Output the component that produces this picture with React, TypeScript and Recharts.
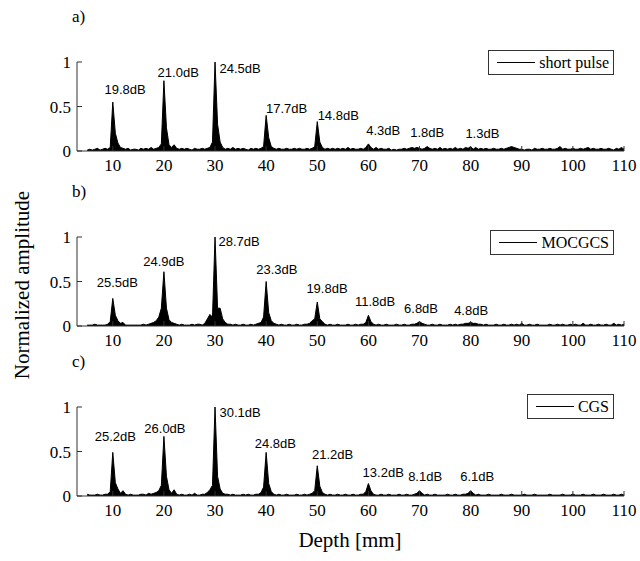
import { Area, AreaChart, Legend, ReferenceDot, XAxis, YAxis } from 'recharts'

// sample positions along depth (mm)
const depthMm = [
  5, 5.5, 6, 6.5, 7, 7.5, 8, 8.5, 9, 9.5, 10, 10.5, 11, 11.5, 12, 12.5, 13, 13.5, 14, 14.5,
  15, 15.5, 16, 16.5, 17, 17.5, 18, 18.5, 19, 19.5, 20, 20.5, 21, 21.5, 22, 22.5, 23, 23.5, 24, 24.5,
  25, 25.5, 26, 26.5, 27, 27.5, 28, 28.5, 29, 29.5, 30, 30.5, 31, 31.5, 32, 32.5, 33, 33.5, 34, 34.5,
  35, 35.5, 36, 36.5, 37, 37.5, 38, 38.5, 39, 39.5, 40, 40.5, 41, 41.5, 42, 42.5, 43, 43.5, 44, 44.5,
  45, 45.5, 46, 46.5, 47, 47.5, 48, 48.5, 49, 49.5, 50, 50.5, 51, 51.5, 52, 52.5, 53, 53.5, 54, 54.5,
  55, 55.5, 56, 56.5, 57, 57.5, 58, 58.5, 59, 59.5, 60, 60.5, 61, 61.5, 62, 62.5, 63, 63.5, 64, 64.5,
  65, 65.5, 66, 66.5, 67, 67.5, 68, 68.5, 69, 69.5, 70, 70.5, 71, 71.5, 72, 72.5, 73, 73.5, 74, 74.5,
  75, 75.5, 76, 76.5, 77, 77.5, 78, 78.5, 79, 79.5, 80, 80.5, 81, 81.5, 82, 82.5, 83, 83.5, 84, 84.5,
  85, 85.5, 86, 86.5, 87, 87.5, 88, 88.5, 89, 89.5, 90, 90.5, 91, 91.5, 92, 92.5, 93, 93.5, 94, 94.5,
  95, 95.5, 96, 96.5, 97, 97.5, 98, 98.5, 99, 99.5, 100, 100.5, 101, 101.5, 102, 102.5, 103, 103.5, 104, 104.5,
  105, 105.5, 106, 106.5, 107, 107.5, 108, 108.5, 109, 109.5, 110,
]

const shortPulse = [
  0.01, 0.02, 0.01, 0.02, 0.03, 0.01, 0.02, 0.03, 0.02, 0.04, 0.55, 0.2, 0.09, 0.04, 0.03, 0.02, 0.03, 0.01, 0.02, 0.02,
  0.01, 0.03, 0.02, 0.03, 0.02, 0.04, 0.02, 0.03, 0.04, 0.08, 0.79, 0.26, 0.07, 0.04, 0.07, 0.03, 0.02, 0.03, 0.02, 0.03,
  0.02, 0.01, 0.03, 0.02, 0.02, 0.03, 0.02, 0.03, 0.04, 0.1, 1.0, 0.3, 0.1, 0.04, 0.02, 0.03, 0.02, 0.04, 0.02, 0.03,
  0.02, 0.03, 0.02, 0.01, 0.03, 0.02, 0.03, 0.02, 0.03, 0.05, 0.4, 0.15, 0.05, 0.03, 0.02, 0.03, 0.02, 0.02, 0.03, 0.02,
  0.02, 0.03, 0.02, 0.03, 0.02, 0.02, 0.03, 0.02, 0.03, 0.05, 0.33, 0.1, 0.04, 0.02, 0.03, 0.02, 0.03, 0.02, 0.03, 0.02,
  0.03, 0.02, 0.04, 0.02, 0.03, 0.02, 0.02, 0.03, 0.02, 0.04, 0.08, 0.04, 0.02, 0.04, 0.02, 0.03, 0.02, 0.02, 0.03, 0.01,
  0.02, 0.01, 0.02, 0.02, 0.03, 0.02, 0.03, 0.04, 0.03, 0.04, 0.03, 0.02, 0.03, 0.05, 0.03, 0.02, 0.03, 0.02, 0.04, 0.02,
  0.03, 0.02, 0.03, 0.02, 0.04, 0.02, 0.03, 0.02, 0.04, 0.03, 0.05, 0.02, 0.04, 0.02, 0.03, 0.02, 0.03, 0.02, 0.02, 0.03,
  0.02, 0.02, 0.03, 0.02, 0.03, 0.04, 0.05, 0.04, 0.03, 0.02, 0.02, 0.01, 0.02, 0.02, 0.01, 0.03, 0.02, 0.02, 0.03, 0.02,
  0.02, 0.03, 0.02, 0.02, 0.03, 0.05, 0.02, 0.03, 0.02, 0.02, 0.03, 0.02, 0.02, 0.03, 0.02, 0.03, 0.04, 0.02, 0.03, 0.02,
  0.02, 0.03, 0.02, 0.02, 0.03, 0.02, 0.01, 0.03, 0.02, 0.04, 0.02,
]

const mocgcs = [
  0.01, 0.01, 0.01, 0.02, 0.01, 0.01, 0.01, 0.01, 0.02, 0.05, 0.31, 0.12, 0.06, 0.03, 0.04, 0.01, 0.01, 0.01, 0.01, 0.01,
  0.01, 0.01, 0.02, 0.01, 0.02, 0.03, 0.04, 0.06, 0.1, 0.2, 0.61, 0.2, 0.07, 0.04, 0.03, 0.02, 0.01, 0.02, 0.01, 0.01,
  0.01, 0.02, 0.01, 0.02, 0.02, 0.01, 0.03, 0.08, 0.13, 0.1, 1.0, 0.2, 0.2, 0.08, 0.04, 0.02, 0.02, 0.01, 0.02, 0.01,
  0.01, 0.02, 0.01, 0.01, 0.02, 0.01, 0.02, 0.03, 0.04, 0.1, 0.5, 0.15, 0.06, 0.03, 0.02, 0.01, 0.02, 0.01, 0.01, 0.02,
  0.01, 0.01, 0.02, 0.01, 0.01, 0.02, 0.02, 0.03, 0.06, 0.08, 0.27, 0.08, 0.05, 0.02, 0.01, 0.02, 0.01, 0.01, 0.02, 0.01,
  0.01, 0.01, 0.02, 0.01, 0.01, 0.02, 0.01, 0.02, 0.02, 0.04, 0.12, 0.05, 0.02, 0.01, 0.02, 0.01, 0.01, 0.02, 0.01, 0.01,
  0.01, 0.02, 0.01, 0.01, 0.02, 0.01, 0.01, 0.02, 0.02, 0.03, 0.05, 0.03, 0.02, 0.01, 0.01, 0.02, 0.01, 0.01, 0.02, 0.01,
  0.01, 0.01, 0.02, 0.01, 0.02, 0.01, 0.02, 0.02, 0.03, 0.03, 0.04, 0.03, 0.03, 0.02, 0.02, 0.01, 0.02, 0.01, 0.01, 0.01,
  0.02, 0.01, 0.01, 0.02, 0.01, 0.01, 0.02, 0.01, 0.02, 0.01, 0.03, 0.01, 0.01, 0.02, 0.01, 0.01, 0.02, 0.01, 0.01, 0.01,
  0.01, 0.02, 0.01, 0.01, 0.02, 0.01, 0.02, 0.01, 0.01, 0.02, 0.01, 0.02, 0.01, 0.01, 0.03, 0.01, 0.01, 0.02, 0.01, 0.01,
  0.02, 0.01, 0.01, 0.02, 0.01, 0.01, 0.03, 0.01, 0.02, 0.01, 0.02,
]

const cgs = [
  0.02, 0.01, 0.01, 0.01, 0.02, 0.01, 0.01, 0.02, 0.02, 0.05, 0.49, 0.15, 0.08, 0.03, 0.06, 0.02, 0.01, 0.02, 0.01, 0.01,
  0.01, 0.02, 0.02, 0.01, 0.03, 0.02, 0.03, 0.04, 0.06, 0.12, 0.67, 0.22, 0.07, 0.03, 0.07, 0.02, 0.01, 0.02, 0.01, 0.01,
  0.02, 0.01, 0.03, 0.01, 0.01, 0.02, 0.02, 0.04, 0.07, 0.12, 1.0, 0.22, 0.08, 0.03, 0.02, 0.02, 0.01, 0.02, 0.01, 0.01,
  0.01, 0.02, 0.01, 0.02, 0.01, 0.01, 0.02, 0.02, 0.04, 0.1, 0.49, 0.14, 0.05, 0.02, 0.01, 0.02, 0.01, 0.01, 0.02, 0.01,
  0.01, 0.01, 0.02, 0.01, 0.01, 0.02, 0.01, 0.02, 0.03, 0.06, 0.34, 0.11, 0.04, 0.02, 0.01, 0.02, 0.01, 0.01, 0.02, 0.01,
  0.01, 0.02, 0.01, 0.01, 0.02, 0.01, 0.01, 0.02, 0.02, 0.05, 0.14, 0.06, 0.02, 0.01, 0.01, 0.02, 0.01, 0.01, 0.02, 0.01,
  0.01, 0.01, 0.02, 0.01, 0.01, 0.02, 0.01, 0.01, 0.02, 0.03, 0.06, 0.03, 0.01, 0.02, 0.01, 0.01, 0.02, 0.01, 0.01, 0.01,
  0.01, 0.02, 0.01, 0.01, 0.02, 0.01, 0.01, 0.02, 0.02, 0.03, 0.06, 0.03, 0.01, 0.02, 0.01, 0.01, 0.01, 0.02, 0.01, 0.01,
  0.01, 0.01, 0.02, 0.01, 0.01, 0.01, 0.02, 0.01, 0.01, 0.01, 0.01, 0.02, 0.01, 0.01, 0.01, 0.02, 0.01, 0.01, 0.01, 0.01,
  0.01, 0.02, 0.01, 0.01, 0.01, 0.01, 0.02, 0.01, 0.01, 0.01, 0.02, 0.01, 0.01, 0.01, 0.02, 0.01, 0.01, 0.01, 0.02, 0.01,
  0.01, 0.01, 0.02, 0.01, 0.01, 0.01, 0.02, 0.01, 0.01, 0.02, 0.01,
]

// dB annotations: text, where it sits (depth, amplitude)
const shortPulseNotes = ['19.8dB', '21.0dB', '24.5dB', '17.7dB', '14.8dB', '4.3dB', '1.8dB', '1.3dB']
const shortPulseNoteX = [12.4, 22.8, 34.9, 44.0, 54.1, 62.9, 71.5, 82.3]
const shortPulseNoteY = [0.69, 0.88, 0.925, 0.48, 0.4, 0.23, 0.21, 0.2]

const mocgcsNotes = ['25.5dB', '24.9dB', '28.7dB', '23.3dB', '19.8dB', '11.8dB', '6.8dB', '4.8dB']
const mocgcsNoteX = [10.9, 20.0, 34.7, 42.1, 51.9, 61.3, 70.3, 80.1]
const mocgcsNoteY = [0.49, 0.73, 0.95, 0.64, 0.42, 0.28, 0.2, 0.17]

const cgsNotes = ['25.2dB', '26.0dB', '30.1dB', '24.8dB', '21.2dB', '13.2dB', '8.1dB', '6.1dB']
const cgsNoteX = [10.5, 20.2, 34.9, 41.8, 53.0, 62.9, 71.1, 81.3]
const cgsNoteY = [0.67, 0.76, 0.94, 0.59, 0.47, 0.27, 0.22, 0.22]

const xTicks = [10, 20, 30, 40, 50, 60, 70, 80, 90, 100, 110]
const yTicks = [0, 0.5, 1]

const SERIF = '"Liberation Serif", "Times New Roman", serif'
const SANS = '"Liberation Sans", Arial, sans-serif'

interface PanelProps {
  top: number
  letter: string
  name: string
  values: number[]
  notes: string[]
  noteX: number[]
  noteY: number[]
  legendTop: number
}

function Panel({ top, letter, name, values, notes, noteX, noteY, legendTop }: PanelProps) {
  const data = depthMm.map((d, i) => ({ depth: d, amp: values[i] }))
  const tickStyle = { fontSize: 17, fill: '#000', fontFamily: SERIF }
  const blank = () => ''

  return (
    <div style={{ position: 'absolute', left: 0, top: top - 20 }}>
      <div style={{ position: 'absolute', left: 72, top: -10, fontFamily: SERIF, fontSize: 17, lineHeight: '20px' }}>
        {letter}
      </div>
      <AreaChart width={640} height={164} data={data} margin={{ top: 20, right: 16, bottom: 0, left: 0 }}>
        <XAxis
          dataKey="depth"
          type="number"
          domain={[3, 110]}
          ticks={xTicks}
          stroke="#333"
          tick={tickStyle}
          tickSize={-5}
          tickMargin={13}
          height={30}
        />
        <XAxis
          xAxisId="top"
          orientation="top"
          dataKey="depth"
          type="number"
          domain={[3, 110]}
          ticks={xTicks}
          stroke="#333"
          tickFormatter={blank}
          tickSize={-5}
          height={0}
        />
        <YAxis
          type="number"
          domain={[0, 1]}
          ticks={yTicks}
          stroke="#333"
          tick={tickStyle}
          tickSize={-5}
          tickMargin={11}
          width={77}
        />
        <YAxis
          yAxisId="right"
          orientation="right"
          type="number"
          domain={[0, 1]}
          ticks={yTicks}
          stroke="#333"
          tickFormatter={blank}
          tickSize={-5}
          width={0}
        />
        <Area
          type="linear"
          dataKey="amp"
          stroke="#000"
          strokeWidth={1}
          fill="#000"
          fillOpacity={1}
          dot={false}
          activeDot={false}
          isAnimationActive={false}
        />
        {notes.map((n, i) => (
          <ReferenceDot
            key={n + i}
            x={noteX[i]}
            y={noteY[i]}
            r={0}
            fill="none"
            stroke="none"
            ifOverflow="visible"
            label={{ value: n, position: 'center', fontSize: 13, fill: '#000', fontFamily: SANS }}
          />
        ))}
        <Legend
          verticalAlign="top"
          align="right"
          wrapperStyle={{ top: legendTop, right: 26, left: 'auto', width: 'auto' }}
          content={() => (
            <div
              style={{
                display: 'flex',
                alignItems: 'center',
                border: '1px solid #333',
                background: '#fff',
                height: 23,
                padding: '0 4px 0 8px',
                fontFamily: SERIF,
                fontSize: 16,
                color: '#000',
              }}
            >
              <span style={{ display: 'inline-block', width: 38, borderTop: '1px solid #000', marginRight: 4 }} />
              {name}
            </div>
          )}
        />
      </AreaChart>
    </div>
  )
}

export default function App() {
  return (
    <div style={{ position: 'absolute', left: 0, top: 0, width: 640, height: 561, background: '#fff' }}>
      <Panel
        top={37}
        letter="a)"
        name="short pulse"
        values={shortPulse}
        notes={shortPulseNotes}
        noteX={shortPulseNoteX}
        noteY={shortPulseNoteY}
        legendTop={33}
      />
      <Panel
        top={212}
        letter="b)"
        name="MOCGCS"
        values={mocgcs}
        notes={mocgcsNotes}
        noteX={mocgcsNoteX}
        noteY={mocgcsNoteY}
        legendTop={38}
      />
      <Panel
        top={382}
        letter="c)"
        name="CGS"
        values={cgs}
        notes={cgsNotes}
        noteX={cgsNoteX}
        noteY={cgsNoteY}
        legendTop={32}
      />
      <div
        style={{
          position: 'absolute',
          left: 22 - 130,
          top: 285 - 13,
          width: 260,
          textAlign: 'center',
          transform: 'rotate(-90deg)',
          fontFamily: SERIF,
          fontSize: 21,
          lineHeight: '26px',
        }}
      >
        Normalized amplitude
      </div>
      <div
        style={{
          position: 'absolute',
          left: 250,
          top: 528,
          width: 200,
          textAlign: 'center',
          fontFamily: SERIF,
          fontSize: 21,
          lineHeight: '24px',
        }}
      >
        Depth [mm]
      </div>
    </div>
  )
}
